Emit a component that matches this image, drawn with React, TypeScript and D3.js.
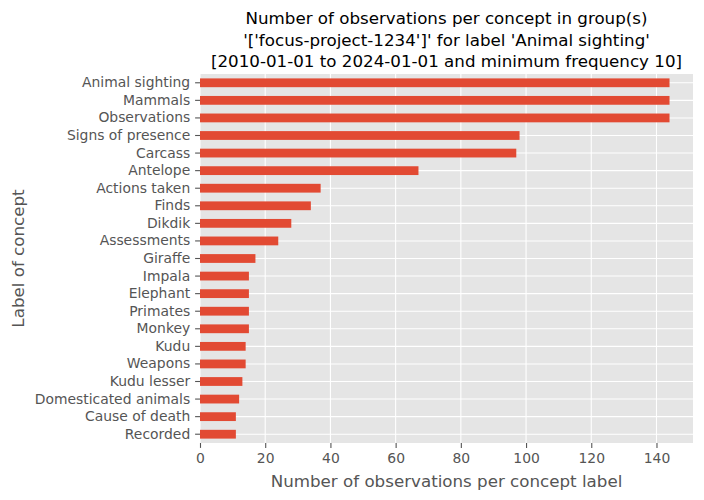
import React, { useEffect, useRef } from "react";
import * as d3 from "d3";

// concept labels, top to bottom
const concepts = [
  "Animal sighting",
  "Mammals",
  "Observations",
  "Signs of presence",
  "Carcass",
  "Antelope",
  "Actions taken",
  "Finds",
  "Dikdik",
  "Assessments",
  "Giraffe",
  "Impala",
  "Elephant",
  "Primates",
  "Monkey",
  "Kudu",
  "Weapons",
  "Kudu lesser",
  "Domesticated animals",
  "Cause of death",
  "Recorded",
];
const counts = [144, 144, 144, 98, 97, 67, 37, 34, 28, 24, 17, 15, 15, 15, 15, 14, 14, 13, 12, 11, 11];
const xTicks = [0, 20, 40, 60, 80, 100, 120, 140];
const titleLines = [
  "Number of observations per concept in group(s)",
  "'['focus-project-1234']' for label 'Animal sighting'",
  "[2010-01-01 to 2024-01-01 and minimum frequency 10]",
];

const W = 704;
const H = 500;
const margin = { top: 74, right: 11, bottom: 57, left: 200 };
const FONT = "DejaVu Sans, sans-serif";

const App = () => {
  const ref = useRef<SVGSVGElement>(null);

  useEffect(() => {
    const svg = d3.select(ref.current);
    svg.selectAll("*").remove();

    const width = W - margin.left - margin.right;
    const height = H - margin.top - margin.bottom;

    const x = d3.scaleLinear().domain([0, d3.max(counts)! * 1.05]).range([0, width]);
    const y = d3.scaleBand().domain(concepts).range([0, height]).paddingInner(0.5).paddingOuter(0.25);

    const g = svg.append("g").attr("transform", `translate(${margin.left},${margin.top})`);

    g.append("rect").attr("width", width).attr("height", height).attr("fill", "#e5e5e5");

    // grid
    g.selectAll(".vgrid")
      .data(xTicks)
      .enter()
      .append("line")
      .attr("x1", (d) => x(d))
      .attr("x2", (d) => x(d))
      .attr("y1", 0)
      .attr("y2", height)
      .attr("stroke", "#fff")
      .attr("stroke-width", 1.1);
    g.selectAll(".hgrid")
      .data(concepts)
      .enter()
      .append("line")
      .attr("x1", 0)
      .attr("x2", width)
      .attr("y1", (d) => y(d)! + y.bandwidth() / 2)
      .attr("y2", (d) => y(d)! + y.bandwidth() / 2)
      .attr("stroke", "#fff")
      .attr("stroke-width", 1.1);

    g.selectAll(".bar")
      .data(concepts)
      .enter()
      .append("rect")
      .attr("x", 0)
      .attr("y", (d) => y(d)!)
      .attr("height", y.bandwidth())
      .attr("width", (_, i) => x(counts[i]))
      .attr("fill", "#E24A33");

    const xAxis = g
      .append("g")
      .attr("transform", `translate(0,${height})`)
      .call(d3.axisBottom(x).tickValues(xTicks).tickSize(4.9).tickPadding(5.5));
    const yAxis = g.append("g").call(d3.axisLeft(y).tickSize(4.9).tickPadding(4.9));

    [xAxis, yAxis].forEach((a) => {
      a.select(".domain").remove();
      a.selectAll("line").attr("stroke", "#555").attr("stroke-width", 1.1);
      a.selectAll("text").attr("fill", "#555").attr("font-size", 13.9).attr("font-family", FONT);
    });

    svg
      .append("text")
      .attr("x", margin.left + width / 2)
      .attr("y", 487)
      .attr("text-anchor", "middle")
      .attr("font-size", 16.7)
      .attr("font-family", FONT)
      .attr("fill", "#555")
      .text("Number of observations per concept label");

    svg
      .append("text")
      .attr("transform", `translate(24,${margin.top + height / 2}) rotate(-90)`)
      .attr("text-anchor", "middle")
      .attr("font-size", 16.7)
      .attr("font-family", FONT)
      .attr("fill", "#555")
      .text("Label of concept");

    svg
      .append("g")
      .selectAll("text")
      .data(titleLines)
      .enter()
      .append("text")
      .attr("x", margin.left + width / 2)
      .attr("y", (_, i) => 24 + i * 21.5)
      .attr("text-anchor", "middle")
      .attr("font-size", 16.7)
      .attr("font-family", FONT)
      .attr("fill", "#000")
      .text((d) => d);
  }, []);

  return <svg ref={ref} width={W} height={H} style={{ display: "block", margin: -8 }} />;
};

export default App;
